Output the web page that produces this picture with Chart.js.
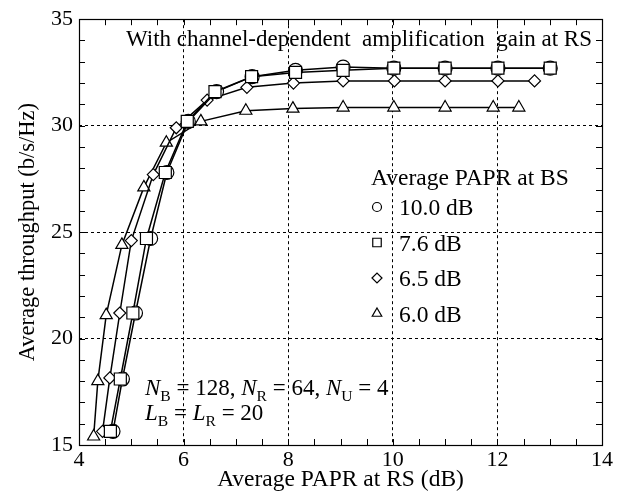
<!DOCTYPE html>
<html lang="en">
<head>
<meta charset="UTF-8">
<title>Average throughput vs average PAPR at RS</title>
<script src="https://cdn.jsdelivr.net/npm/chart.js"></script>
<style>
  html, body { margin: 0; padding: 0; background: #fff; }
  #grafico { width: 624px; height: 497px; }
</style>
</head>
<body>
<div id="grafico"><canvas id="grafico-info" width="624" height="497"></canvas></div>
<script>
// axis tick labels
const xTicks = [4, 6, 8, 10, 12, 14];
const yTicks = [15, 20, 25, 30, 35];

// series: average PAPR at BS
const seriesNames = ['10.0 dB', '7.6 dB', '6.5 dB', '6.0 dB'];

const xPapr100 = [4.65, 4.83, 5.08, 5.37, 5.68, 6.09, 6.63, 7.31, 8.14, 9.05, 10.02, 11.0, 12.01, 13.01];
const yPapr100 = [15.64, 18.1, 21.2, 24.7, 27.8, 30.2, 31.6, 32.3, 32.6, 32.75, 32.7, 32.7, 32.7, 32.7];

const xPapr76 = [4.6, 4.79, 5.03, 5.29, 5.65, 6.07, 6.6, 7.3, 8.14, 9.05, 10.02, 11.0, 12.01, 13.01];
const yPapr76 = [15.64, 18.1, 21.2, 24.7, 27.8, 30.2, 31.6, 32.3, 32.5, 32.6, 32.7, 32.7, 32.7, 32.7];

const xPapr65 = [4.45, 4.59, 4.78, 5.0, 5.42, 5.86, 6.45, 7.21, 8.1, 9.05, 10.03, 11.0, 12.01, 12.71];
const yPapr65 = [15.64, 18.15, 21.2, 24.6, 27.7, 29.9, 31.2, 31.8, 32.0, 32.1, 32.1, 32.1, 32.1, 32.1];

const xPapr60 = [4.28, 4.36, 4.52, 4.82, 5.24, 5.67, 6.33, 7.19, 8.09, 9.05, 10.02, 11.0, 11.92, 12.41];
const yPapr60 = [15.4, 18.0, 21.1, 24.4, 27.1, 29.2, 30.2, 30.7, 30.8, 30.85, 30.85, 30.85, 30.85, 30.85];

const FONT = '"Liberation Serif", "Times New Roman", serif';

function pares(xs, ys) {
    return xs.map((x, i) => ({ x: x, y: ys[i] }));
}

function serie(nome, xs, ys, estilo, raio, ordem) {
    return {
        label: nome,
        data: pares(xs, ys),
        showLine: true,
        borderColor: '#000',
        borderWidth: 1.5,
        pointStyle: estilo,
        pointRadius: raio,
        pointBackgroundColor: '#fff',
        pointBorderColor: '#000',
        pointBorderWidth: 1.2,
        order: ordem
    };
}

// rich text with italic letters and subscripts
function textoRico(ctx, x, y, partes, tam) {
    partes.forEach(p => {
        const t = p.sub ? tam * 0.68 : tam;
        ctx.font = (p.it ? 'italic ' : '') + t + 'px ' + FONT;
        ctx.fillText(p.t, x, y + (p.sub ? tam * 0.26 : 0));
        x += ctx.measureText(p.t).width;
    });
}

// frame, inward ticks and the texts inside the plot
const moldura = {
    id: 'moldura',
    afterDraw(chart) {
        const ctx = chart.ctx;
        const a = chart.chartArea;
        const sx = chart.scales.x, sy = chart.scales.y;
        ctx.save();
        ctx.strokeStyle = '#000';
        ctx.lineWidth = 1;
        ctx.beginPath();
        for (let v = 4; v <= 14.001; v += 0.5) {
            const px = Math.round(sx.getPixelForValue(v)) + 0.5;
            ctx.moveTo(px, a.bottom); ctx.lineTo(px, a.bottom - 6);
            ctx.moveTo(px, a.top); ctx.lineTo(px, a.top + 6);
        }
        for (let v = 15; v <= 35; v += 1) {
            const py = Math.round(sy.getPixelForValue(v)) + 0.5;
            ctx.moveTo(a.left, py); ctx.lineTo(a.left + 6, py);
            ctx.moveTo(a.right, py); ctx.lineTo(a.right - 6, py);
        }
        ctx.stroke();
        ctx.lineWidth = 1.2;
        ctx.strokeRect(Math.round(a.left) + 0.5, Math.round(a.top) + 0.5,
            Math.round(a.right - a.left), Math.round(a.bottom - a.top));

        ctx.fillStyle = '#000';
        ctx.textBaseline = 'alphabetic';

        // annotation
        ctx.font = '23px ' + FONT;
        ctx.textAlign = 'right';
        ctx.fillText('With channel-dependent  amplification  gain at RS', a.right - 10, 46);

        // legend
        ctx.textAlign = 'left';
        ctx.font = '23.5px ' + FONT;
        ctx.fillText('Average PAPR at BS', 371, 185);
        const estilos = [['circle', 4.5], ['rect', 6], ['rectRot', 5], ['triangle', 5.5]];
        seriesNames.forEach((nome, i) => {
            const cy = 207 + i * 35.5;
            ctx.lineWidth = 1.2;
            ctx.strokeStyle = '#000';
            ctx.fillStyle = '#fff';
            Chart.helpers.drawPoint(ctx, { pointStyle: estilos[i][0], radius: estilos[i][1], rotation: 0, borderWidth: 1.2 }, 377, cy);
            ctx.fillStyle = '#000';
            ctx.font = '23.5px ' + FONT;
            ctx.fillText(nome, 399, cy + 8);
        });

        // system parameters
        textoRico(ctx, 145, 395, [
            { t: 'N', it: true }, { t: 'B', sub: true }, { t: ' = 128, ' },
            { t: 'N', it: true }, { t: 'R', sub: true }, { t: ' = 64, ' },
            { t: 'N', it: true }, { t: 'U', sub: true }, { t: ' = 4' }
        ], 23);
        textoRico(ctx, 145, 420, [
            { t: 'L', it: true }, { t: 'B', sub: true }, { t: ' = ' },
            { t: 'L', it: true }, { t: 'R', sub: true }, { t: ' = 20' }
        ], 23);
        ctx.restore();
    }
};

function criarGrafico() {
    const ctx = document.getElementById('grafico-info').getContext('2d');
    const grade = limites => ({
        color: c => (c.tick && (c.tick.value === limites[0] || c.tick.value === limites[1])) ? 'rgba(0,0,0,0)' : '#000',
        lineWidth: 1,
        drawTicks: false
    });
    const config = {
        type: 'scatter',
        data: {
            datasets: [
                serie(seriesNames[0], xPapr100, yPapr100, 'circle', 7, 1),
                serie(seriesNames[1], xPapr76, yPapr76, 'rect', 8.5, 0),
                serie(seriesNames[2], xPapr65, yPapr65, 'rectRot', 6, 2),
                serie(seriesNames[3], xPapr60, yPapr60, 'triangle', 7, 3)
            ]
        },
        options: {
            responsive: false,
            animation: false,
            layout: { padding: { top: 17, right: 22, left: 0, bottom: 0 } },
            plugins: {
                legend: { display: false },
                tooltip: { enabled: false }
            },
            scales: {
                x: {
                    type: 'linear',
                    min: 4, max: 14,
                    afterBuildTicks: s => { s.ticks = xTicks.map(v => ({ value: v })); },
                    afterFit: s => { s.height = 52; },
                    grid: grade([4, 14]),
                    border: { display: false, dash: [3, 3] },
                    ticks: { color: '#000', padding: 2, font: { family: FONT, size: 22 } },
                    title: {
                        display: true,
                        text: 'Average PAPR at RS (dB)',
                        color: '#000',
                        font: { family: FONT, size: 23.5 },
                        padding: { top: 0, bottom: 3 }
                    }
                },
                y: {
                    type: 'linear',
                    min: 15, max: 35,
                    afterBuildTicks: s => { s.ticks = yTicks.map(v => ({ value: v })); },
                    afterFit: s => { s.width = 79; },
                    grid: grade([15, 35]),
                    border: { display: false, dash: [3, 3] },
                    ticks: { color: '#000', padding: 6, font: { family: FONT, size: 22 } },
                    title: {
                        display: true,
                        text: 'Average throughput (b/s/Hz)',
                        color: '#000',
                        font: { family: FONT, size: 22.5 },
                        padding: { top: 15, bottom: 0 }
                    }
                }
            }
        },
        plugins: [moldura]
    };
    new Chart(ctx, config);
}

window.onload = function() {
    criarGrafico();
};
</script>
</body>
</html>
